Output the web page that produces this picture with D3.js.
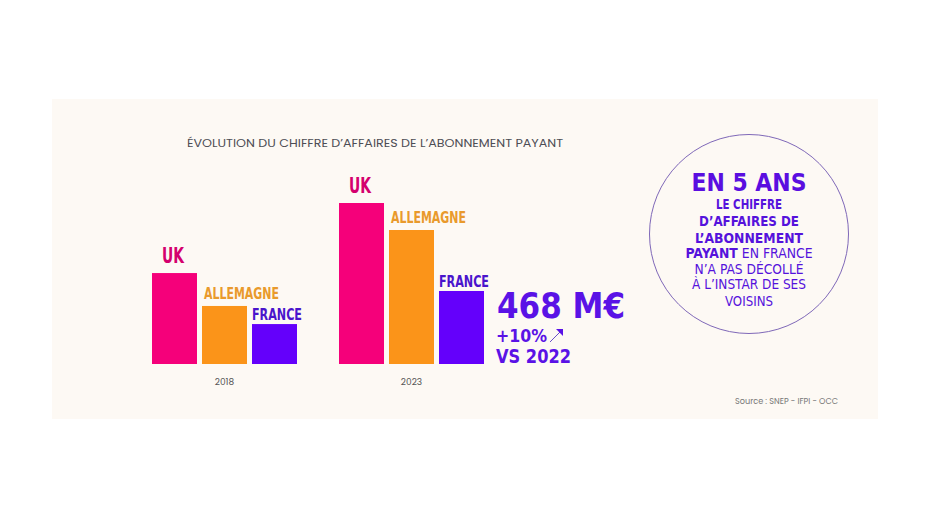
<!DOCTYPE html>
<html><head><meta charset="utf-8">
<script src="https://cdn.jsdelivr.net/npm/d3@7"></script>
<style>
html,body{margin:0;padding:0;background:#fff;}
svg{display:block;}
</style></head>
<body>
<svg id="chart" width="928" height="521"></svg>
<script>
const years = ["2018", "2023"];
const categories = ["UK", "ALLEMAGNE", "FRANCE"];
const values2018 = [583, 372, 256];
const values2023 = [1032, 859, 468];
const title = "ÉVOLUTION DU CHIFFRE D’AFFAIRES DE L’ABONNEMENT PAYANT";
const source = "Source : SNEP - IFPI - OCC";
const circleLines = [
  [{t:"EN 5 ANS", b:true}],
  [{t:"LE CHIFFRE", b:true}],
  [{t:"D’AFFAIRES DE", b:true}],
  [{t:"L’ABONNEMENT", b:true}],
  [{t:"PAYANT", b:true},{t:" EN FRANCE", b:false}],
  [{t:"N’A PAS DÉCOLLÉ", b:false}],
  [{t:"À L’INSTAR DE SES", b:false}],
  [{t:"VOISINS", b:false}]
];

const barColors = {"UK":"#f5007a","ALLEMAGNE":"#fb9419","FRANCE":"#6400fb"};
const labelColors = {"UK":"#d4006e","ALLEMAGNE":"#e99a2c","FRANCE":"#4a14cc"};
const labelStyle = {"UK":{dx:10,dy:-10,size:22,w:22},"ALLEMAGNE":{dx:2,dy:-7,size:16.5,w:75},"FRANCE":{dx:0,dy:-4,size:16.5,w:50}};
const narrow = "'Liberation Sans Narrow','DejaVu Sans Condensed',sans-serif";

const svg = d3.select("#chart");
svg.append("rect").attr("x",52).attr("y",99).attr("width",826).attr("height",320).attr("fill","#fdf9f4");

const data = years.map((y,i)=>({year:y, values: categories.map((c,j)=>({cat:c, v:(i===0?values2018:values2023)[j]}))}));

const x0 = d3.scaleBand().domain(years).range([152, 526]).padding(0);
const x1 = d3.scaleBand().domain(categories).range([0, 145]).paddingInner(0.1);
const y = d3.scaleLinear().domain([0, 1000]).range([364, 208]);

function fit(sel, w){ sel.attr("textLength", w).attr("lengthAdjust","spacingAndGlyphs"); }

svg.append("text").attr("x",187).attr("y",147).text(title)
  .attr("font-family","Poppins,'Open Sans',sans-serif").attr("font-size",11).attr("fill","#4d4d55")
  .call(fit, 376);

const g = svg.selectAll("g.year").data(data).join("g").attr("class","year")
  .attr("transform", d=>`translate(${x0(d.year)},0)`);

g.selectAll("rect").data(d=>d.values).join("rect")
  .attr("x", d=>x1(d.cat)).attr("width", x1.bandwidth())
  .attr("y", d=>y(d.v)).attr("height", d=>y(0)-y(d.v))
  .attr("fill", d=>barColors[d.cat]);

g.selectAll("text.lab").data(d=>d.values).join("text").attr("class","lab")
  .attr("x", d=>x1(d.cat)+labelStyle[d.cat].dx)
  .attr("y", d=>y(d.v)+labelStyle[d.cat].dy)
  .attr("font-family", narrow).attr("font-weight","bold")
  .attr("font-size", d=>labelStyle[d.cat].size)
  .attr("fill", d=>labelColors[d.cat])
  .text(d=>d.cat)
  .each(function(d){ d3.select(this).call(fit, labelStyle[d.cat].w); });

g.append("text").attr("x", 72.5).attr("y", 385).attr("text-anchor","middle")
  .attr("font-family","Poppins,'Open Sans',sans-serif").attr("font-size",9).attr("fill","#555")
  .text(d=>d.year);

// France 2023 callout
const fr = values2023[2];
const big = svg.append("g").attr("fill","#5a12e6").attr("font-family","'DejaVu Sans Condensed','DejaVu Sans',sans-serif").attr("font-weight","bold");
big.append("text").attr("x",497).attr("y",318).attr("font-size",35).text(fr+" M€").call(fit,128);
big.append("text").attr("x",496).attr("y",342).attr("font-size",17).text("+10%").call(fit,51);
big.append("text").attr("x",496).attr("y",363).attr("font-size",19).text("VS 2022").call(fit,75);
svg.append("line").attr("x1",550).attr("y1",342).attr("x2",562).attr("y2",330).attr("stroke","#6a4fc8").attr("stroke-width",1);
svg.append("path").attr("d","M556,329 L563,329 L563,336 Z").attr("fill","#5a12e6");

// circle
svg.append("circle").attr("cx",749).attr("cy",234).attr("r",99.5).attr("fill","none").attr("stroke","#7f68b8").attr("stroke-width",1);
const lineY = [191, 209, 226, 243, 258, 274, 289, 306];
const lineW = [115, 66, 100, 108, 127, 109, 114, 48];
const lineSize = [24, 14, 14, 14, 14, 14, 14, 14];
circleLines.forEach((parts,i)=>{
  const t = svg.append("text").attr("x",749).attr("y",lineY[i]).attr("text-anchor","middle")
    .attr("font-family", narrow).attr("font-size", lineSize[i]).attr("fill", i===0?"#5a0ee0":"#5512dc");
  parts.forEach(p=>t.append("tspan").attr("font-weight", p.b?"bold":"normal").text(p.t));
  t.call(fit, lineW[i]);
});

svg.append("text").attr("x",735).attr("y",404).attr("font-family","Poppins,'Open Sans',sans-serif")
  .attr("font-size",8).attr("fill","#777").text(source).call(fit,103);
</script>
</body></html>
